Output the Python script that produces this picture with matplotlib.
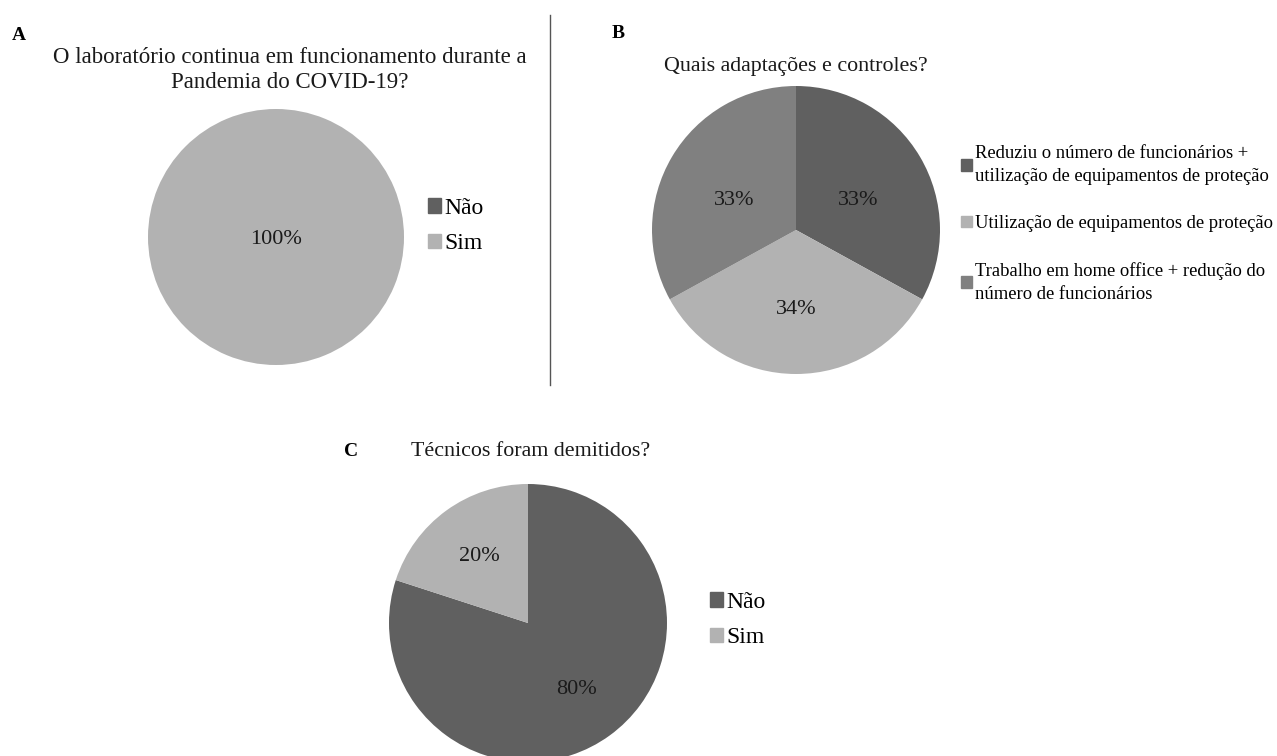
import matplotlib
matplotlib.use("Agg")
import matplotlib.pyplot as plt

plt.rcParams["font.family"] = ["Liberation Serif", "DejaVu Serif"]

W, H = 1277, 756

# data
a_labels = ["Não", "Sim"]
a_values = [0, 100]
b_labels = [
    "Reduziu o número de funcionários +\nutilização de equipamentos de proteção",
    "Utilização de equipamentos de proteção",
    "Trabalho em home office + redução do\nnúmero de funcionários",
]
b_values = [33, 34, 33]
c_labels = ["Não", "Sim"]
c_values = [80, 20]

DARK = "#606060"
LIGHT = "#b2b2b2"
MID = "#808080"
TXT = "#1a1a1a"


def pie_axes(fig, cx, cy, r):
    ax = fig.add_axes([(cx - r) / W, (H - cy - r) / H, 2 * r / W, 2 * r / H])
    return ax


def draw_pie(ax, values, colors, pctdist, start, fs=16, dy=0.0):
    wedges, _, autotexts = ax.pie(
        values, colors=colors, startangle=start, counterclock=False,
        autopct=lambda p: f"{p:.0f}%" if p > 0 else "",
        pctdistance=pctdist, radius=1,
        textprops=dict(fontsize=fs, color=TXT),
    )
    # excel puts its labels a touch lower than matplotlib does
    for t in autotexts:
        x, y = t.get_position()
        t.set_position((x, y + dy))
    ax.set_xlim(-1, 1)
    ax.set_ylim(-1, 1)
    ax.set_aspect("auto")
    ax.axis("off")
    return autotexts


def squares(colors):
    return [plt.Rectangle((0, 0), 1, 1, color=c) for c in colors]


fig = plt.figure(figsize=(W / 100, H / 100), dpi=100)

# A
axA = pie_axes(fig, 276, 237, 128)
draw_pie(axA, a_values, [DARK, LIGHT], 0.0, 90, dy=-0.02)
fig.text(12 / W, 1 - 35 / H, "A", fontsize=14, fontweight="bold", va="center")
fig.text(290 / W, 1 - 70 / H, "O laboratório continua em funcionamento durante a\nPandemia do COVID-19?",
         fontsize=16.5, ha="center", va="center", linespacing=1.2, color=TXT)
fig.legend(squares([DARK, LIGHT]), a_labels, loc="center left",
           bbox_to_anchor=(411 / W, 1 - 226 / H),
           frameon=False, fontsize=17, handlelength=0.55, handleheight=0.55,
           handletextpad=0.15, labelspacing=0.6, borderpad=0.2)

# divider
fig.add_artist(plt.Line2D([550 / W, 550 / W], [1 - 15 / H, 1 - 385 / H], color="#555555", lw=1))

# B
axB = pie_axes(fig, 796, 230, 144)
draw_pie(axB, b_values, [DARK, LIGHT, MID], 0.5, 90, dy=-0.05)
fig.text(612 / W, 1 - 33 / H, "B", fontsize=14, fontweight="bold", va="center")
fig.text(796 / W, 1 - 66 / H, "Quais adaptações e controles?", fontsize=15.8,
         ha="center", va="center", color=TXT)
legB = fig.legend(squares([DARK, LIGHT, MID]), b_labels, loc="center left",
                  bbox_to_anchor=(948 / W, 1 - 224 / H),
                  frameon=False, fontsize=13.4, handlelength=0.6, handleheight=0.6,
                  handletextpad=0.15, labelspacing=1.6, borderpad=0.2)
for t in legB.get_texts():
    t.set_linespacing(1.45)

# C
axC = pie_axes(fig, 528, 623, 139)
draw_pie(axC, c_values, [DARK, LIGHT], 0.59, 90)
fig.text(344 / W, 1 - 452 / H, "C", fontsize=14, fontweight="bold", va="center")
fig.text(531 / W, 1 - 452 / H, "Técnicos foram demitidos?", fontsize=15.8,
         ha="center", va="center", color=TXT)
fig.legend(squares([DARK, LIGHT]), c_labels, loc="center left",
           bbox_to_anchor=(693 / W, 1 - 620 / H),
           frameon=False, fontsize=17, handlelength=0.55, handleheight=0.55,
           handletextpad=0.15, labelspacing=0.6, borderpad=0.2)

fig.savefig("out.png", dpi=100)
